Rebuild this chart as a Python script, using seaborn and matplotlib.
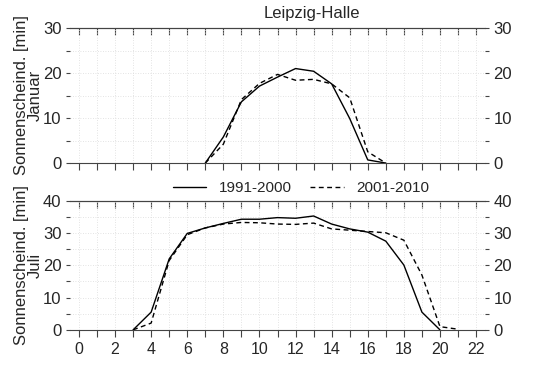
import numpy as np
import pandas as pd
import matplotlib
matplotlib.use("Agg")
import matplotlib.pyplot as plt
import seaborn as sns
from matplotlib.ticker import MultipleLocator, NullLocator

# Hourly sunshine duration (min per hour), Leipzig-Halle
jan_hours = [7, 8, 9, 10, 11, 12, 13, 14, 15, 16, 17]
jan_1991 = [0, 5.8, 13.6, 17.1, 19.1, 21.0, 20.4, 17.6, 9.9, 0.7, 0]
jan_2001 = [0, 4.2, 14.1, 17.7, 19.7, 18.4, 18.6, 17.6, 14.5, 2.5, 0]

jul_hours = [3, 4, 5, 6, 7, 8, 9, 10, 11, 12, 13, 14, 15, 16, 17, 18, 19, 20, 21]
jul_1991 = [0, 5.5, 22.0, 29.9, 31.6, 33.0, 34.3, 34.3, 34.8, 34.6, 35.3,
            32.8, 31.3, 30.3, 27.5, 20.1, 5.5, 0, np.nan]
jul_2001 = [0, 2.1, 21.5, 29.5, 31.6, 32.8, 33.3, 33.2, 32.8, 32.7, 33.1,
            31.3, 30.9, 30.5, 30.1, 27.8, 17.0, 1.0, 0.2]

periods = ["1991-2000", "2001-2010"]
months = ["Januar", "Juli"]
ymax = [30, 40]

sns.set_style("white")
plt.rcParams['font.family'] = ['Liberation Sans', 'DejaVu Sans']

fig = plt.figure(figsize=(5.42, 3.74), dpi=100)
ax1 = fig.add_axes([0.129, 0.564, 0.766, 0.361])
ax2 = fig.add_axes([0.129, 0.118, 0.766, 0.345])

panels = [
    (ax1, jan_hours, jan_1991, jan_2001),
    (ax2, jul_hours, jul_1991, jul_2001),
]

for i, (ax, hrs, a, b) in enumerate(panels):
    df = pd.DataFrame({"Stunde": hrs, periods[0]: a, periods[1]: b})
    sns.lineplot(data=df, x="Stunde", y=periods[0], ax=ax, color="black",
                 lw=1.0, linestyle="-", label=periods[0], legend=False)
    sns.lineplot(data=df, x="Stunde", y=periods[1], ax=ax, color="black",
                 lw=1.0, linestyle=(0, (3.5, 2.5)), label=periods[1], legend=False)
    ax.set_xlim(-0.5, 22.5)
    ax.set_ylim(0, ymax[i])
    ax.xaxis.set_major_locator(MultipleLocator(2))
    ax.xaxis.set_minor_locator(MultipleLocator(1))
    ax.yaxis.set_major_locator(MultipleLocator(10))
    ax.yaxis.set_minor_locator(MultipleLocator(5))
    ax.grid(True, which="both", color="#dadada", lw=0.6, linestyle=(0, (1, 2)))
    for s in ["left", "right"]:
        ax.spines[s].set_visible(False)
    for s in ["top", "bottom"]:
        ax.spines[s].set_color("#444444")
        ax.spines[s].set_linewidth(0.8)
    ax.tick_params(axis="x", which="both", bottom=True, top=False, length=5,
                   width=0.8, color="#444444", labelsize=11.5, direction="out")
    ax.tick_params(axis="y", which="both", left=True, right=True, labelleft=True,
                   labelright=True, length=3, width=0.8, color="#444444",
                   labelsize=12, pad=3)
    # ticks on the upper edge point into the panel
    top = ax.secondary_xaxis("top")
    top.xaxis.set_major_locator(MultipleLocator(1))
    top.xaxis.set_minor_locator(NullLocator())
    top.tick_params(axis="x", which="major", direction="in", length=5, width=0.8,
                    color="#444444", labeltop=False)
    top.spines["top"].set_color("#444444")
    top.spines["top"].set_linewidth(0.8)
    ax.set_xlabel("")
    ax.set_ylabel("Sonnenscheind. [min]\n" + months[i], fontsize=12,
                  linespacing=0.95, labelpad=0)

ax1.tick_params(axis="x", labelbottom=False)

fig.text(0.576, 0.963, "Leipzig-Halle", ha="center", va="center", fontsize=12)

handles, labels = ax2.get_legend_handles_labels()
fig.legend(handles, labels, loc="center", bbox_to_anchor=(0.555, 0.497),
           ncol=2, frameon=False, fontsize=11, handlelength=2.2,
           columnspacing=1.2, handletextpad=0.8)

fig.savefig("out.png", dpi=100)
